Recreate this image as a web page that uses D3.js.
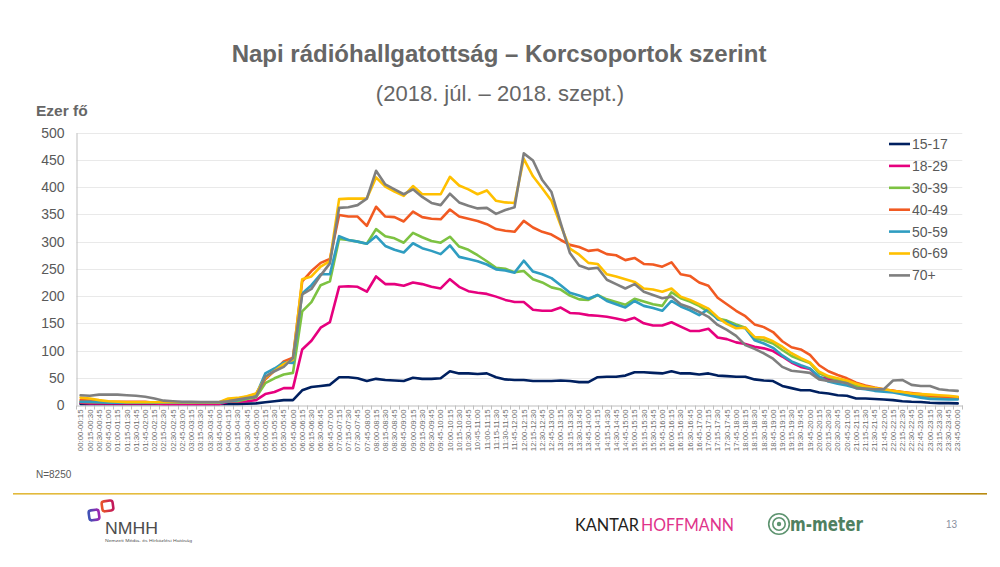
<!DOCTYPE html>
<html>
<head>
<meta charset="utf-8">
<script src="https://cdn.jsdelivr.net/npm/d3@7"></script>
<style>
  html, body { margin: 0; padding: 0; background: #ffffff; }
  svg { display: block; font-family: "Liberation Sans", Arial, sans-serif; }
</style>
</head>
<body>
<svg id="chart" width="1000" height="567"></svg>
<script>
// ---------------- DATA ----------------
const timeLabels = [
  "00:00-00:15","00:15-00:30","00:30-00:45","00:45-01:00","01:00-01:15","01:15-01:30","01:30-01:45","01:45-02:00",
  "02:00-02:15","02:15-02:30","02:30-02:45","02:45-03:00","03:00-03:15","03:15-03:30","03:30-03:45","03:45-04:00",
  "04:00-04:15","04:15-04:30","04:30-04:45","04:45-05:00","05:00-05:15","05:15-05:30","05:30-05:45","05:45-06:00",
  "06:00-06:15","06:15-06:30","06:30-06:45","06:45-07:00","07:00-07:15","07:15-07:30","07:30-07:45","07:45-08:00",
  "08:00-08:15","08:15-08:30","08:30-08:45","08:45-09:00","09:00-09:15","09:15-09:30","09:30-09:45","09:45-10:00",
  "10:00-10:15","10:15-10:30","10:30-10:45","10:45-11:00","11:00-11:15","11:15-11:30","11:30-11:45","11:45-12:00",
  "12:00-12:15","12:15-12:30","12:30-12:45","12:45-13:00","13:00-13:15","13:15-13:30","13:30-13:45","13:45-14:00",
  "14:00-14:15","14:15-14:30","14:30-14:45","14:45-15:00","15:00-15:15","15:15-15:30","15:30-15:45","15:45-16:00",
  "16:00-16:15","16:15-16:30","16:30-16:45","16:45-17:00","17:00-17:15","17:15-17:30","17:30-17:45","17:45-18:00",
  "18:00-18:15","18:15-18:30","18:30-18:45","18:45-19:00","19:00-19:15","19:15-19:30","19:30-19:45","19:45-20:00",
  "20:00-20:15","20:15-20:30","20:30-20:45","20:45-21:00","21:00-21:15","21:15-21:30","21:30-21:45","21:45-22:00",
  "22:00-22:15","22:15-22:30","22:30-22:45","22:45-23:00","23:00-23:15","23:15-23:30","23:30-23:45","23:45-00:00"
];

const seriesNames = ["15-17", "18-29", "30-39", "40-49", "50-59", "60-69", "70+"];
const seriesColors = ["#002060", "#e6007e", "#7dc242", "#f15a22", "#2f9dc1", "#ffc000", "#7f7f7f"];

const age1517 = [
  2,2,2,2,2,2,2,2,2,2,2,2,
  2,2,2,2,2,2,2.5,3,5,7,9,9,
  27,33,35,37,51,51,49,44,48,46,45,44,
  50,48,48,49,62,58,58,57,58,51,47,46,
  46,44,44,44,45,44,42,42,51,52,52,54,
  60,60,59,58,62,58,58,56,58,54,53,52,
  52,47,45,44,35,31,27,27,23,21,18,17,
  12,12,11,10,9,7,6,5.5,4,3.5,3.5,3
];
const age1829 = [
  4,3,3,3,3,3,3,3,3,2,2,2,
  2,2,2,2,6,6,7,9,20,24,31,31,
  102,118,142,152,217,218,217,208,236,222,222,219,
  225,222,217,214,231,217,209,206,204,199,193,189,
  189,175,173,173,179,169,168,165,164,162,159,155,
  160,150,146,146,152,144,136,136,140,124,121,115,
  112,107,104,99,89,78,70,66,51,48,46,43,
  32,31,29,27,26,23,20,18,15,14,13,12
];
const age3039 = [
  5.5,5,5,5,4.5,4.5,4.5,4.5,4,4,4,4,
  4,4,4,4,7,7,11,14,40,49,56,59,
  172,189,220,227,305,303,300,296,323,310,306,298,
  316,308,301,298,309,291,285,275,264,252,250,244,
  246,231,225,216,212,201,194,193,202,194,189,184,
  195,190,185,182,207,196,190,182,171,159,155,148,
  142,122,119,113,101,90,83,77,58,51,47,43,
  35,32,30,28,25,23,20,18,15,14,13.5,13.5
];
const age4049 = [
  9,8,6,6,6,6,6,6,4,4,4,4,
  4,4,4,4,10,12,15,20,47,63,80,87,
  227,246,261,268,349,346,346,329,364,346,345,337,
  355,345,342,341,359,346,342,338,332,323,320,318,
  338,326,318,313,303,294,290,283,285,277,275,266,
  270,259,258,254,262,240,237,225,219,197,185,173,
  163,148,143,134,117,106,102,92,73,62,55,49,
  41,36,32,29,26,24,22,20,17,16,15,14
];
const age5059 = [
  6,6,5,4,4,4,4,4,4,4,4,4,
  4,4,4,4,7,9,13,18,58,67,78,77,
  205,220,240,240,310,303,300,296,310,292,285,280,
  297,288,283,277,293,272,268,264,258,249,247,243,
  265,245,240,233,220,206,201,195,202,191,185,179,
  191,182,178,173,191,181,174,165,176,157,153,144,
  141,119,113,105,91,80,73,67,52,43,39,36,
  31,29,26,24.5,23,20,16.5,13.5,11,10.5,10,10
];
const age6069 = [
  13.5,12,9,7,6,5,5,5,5,5,5,5,
  5,5,5,5,12,13,16,21,50,63,75,83,
  231,236,254,264,378,379,379,379,418,401,392,384,
  402,387,387,387,419,403,396,387,394,375,372,371,
  452,420,398,375,330,287,276,261,259,240,236,231,
  226,214,212,208,214,199,193,185,177,161,149,141,
  142,125,124,117,107,95,86,78,61,53,49,45,
  39,34,31,29,26,24,21,20,19,18,17,15
];
const age70plus = [
  18,17,19,19,19,18,17,15,12,8,7,6,
  6,5.5,5.5,5.5,7,10,13,15,52,62,70,86,
  203,213,238,260,362,363,367,379,430,405,396,387,
  396,382,371,367,388,372,366,361,362,351,358,363,
  462,449,413,391,334,279,256,250,252,230,222,214,
  222,208,202,196,199,185,179,171,162,147,138,127,
  110,103,95,85,70,63,61,59,47,44,43,40,
  31,30,29,29,45,46,37,35,35,29,27,26
];
const yTicks = [0, 50, 100, 150, 200, 250, 300, 350, 400, 450, 500];

const seriesValues = [age1517, age1829, age3039, age4049, age5059, age6069, age70plus];
const series = seriesNames.map((name, k) => ({ name, color: seriesColors[k], values: seriesValues[k] }));

// ---------------- LAYOUT ----------------
const svg = d3.select("#chart");
const textGray = "#595959";

const x = d3.scaleBand().domain(timeLabels).range([76, 962.3]).padding(0);
const y = d3.scaleLinear().domain([0, 500]).range([405, 132.7]);
const xc = d => x(d) + x.bandwidth() / 2;

// Title
svg.append("text").attr("x", 499).attr("y", 62).attr("text-anchor", "middle")
  .attr("font-size", 24).attr("font-weight", "bold").attr("fill", "#666666")
  .text("Napi rádióhallgatottság – Korcsoportok szerint");
svg.append("text").attr("x", 500).attr("y", 101).attr("text-anchor", "middle")
  .attr("font-size", 22).attr("fill", "#666666")
  .text("(2018. júl. – 2018. szept.)");

// Y unit label
svg.append("text").attr("x", 36).attr("y", 116)
  .attr("font-size", 15.5).attr("font-weight", "bold").attr("fill", "#666666")
  .text("Ezer fő");

// Gridlines
svg.append("g").selectAll("line").data(yTicks.filter(t => t > 0)).join("line")
  .attr("x1", 76.5).attr("x2", 962.3)
  .attr("y1", d => Math.round(y(d)) + 0.5).attr("y2", d => Math.round(y(d)) + 0.5)
  .attr("stroke", "#e9e9e9").attr("stroke-width", 1);

// Y axis
const yAxis = d3.axisLeft(y).tickValues(yTicks).tickSize(0).tickPadding(12);
const gy = svg.append("g").attr("transform", "translate(76.5,0)").call(yAxis);
gy.select(".domain").attr("stroke", "#bfbfbf");
gy.selectAll("text").attr("font-size", 14).attr("fill", textGray)
  .attr("font-family", "'Liberation Sans', Arial, sans-serif");

// X axis
const xAxis = d3.axisBottom(x).tickSize(0).tickPadding(0);
const gx = svg.append("g").attr("transform", "translate(0,405.5)").call(xAxis);
gx.select(".domain").attr("stroke", "#bfbfbf");
gx.selectAll(".tick text")
  .attr("font-size", 7.8).attr("fill", "#6b6b6b")
  .attr("font-family", "'Liberation Sans', Arial, sans-serif")
  .attr("text-anchor", "end")
  .attr("transform", "translate(0,4) rotate(-90)")
  .attr("x", 0).attr("y", 0).attr("dy", "0.35em");
// tick marks between categories
gx.append("g").selectAll("line").data(timeLabels.concat(["__end"])).join("line")
  .attr("x1", (d, i) => Math.round(i < timeLabels.length ? x(d) : x.range()[1]) + 0.5)
  .attr("x2", (d, i) => Math.round(i < timeLabels.length ? x(d) : x.range()[1]) + 0.5)
  .attr("y1", 0).attr("y2", 4)
  .attr("stroke", "#bfbfbf");

// Lines
const line = d3.line().x((v, i) => xc(timeLabels[i])).y(v => y(v));
svg.append("g").selectAll("path").data(series).join("path")
  .attr("d", d => line(d.values))
  .attr("fill", "none").attr("stroke", d => d.color)
  .attr("stroke-width", 2.6).attr("stroke-linejoin", "round").attr("stroke-linecap", "round");

// Legend
const lg = svg.append("g").selectAll("g").data(series).join("g")
  .attr("transform", (d, i) => `translate(889,${144 + i * 21.9})`);
lg.append("line").attr("x1", 0).attr("x2", 21).attr("y1", 0).attr("y2", 0)
  .attr("stroke", d => d.color).attr("stroke-width", 2.6);
lg.append("text").attr("x", 23).attr("y", 0).attr("dy", "0.35em")
  .attr("font-size", 14).attr("fill", textGray).text(d => d.name);

// Sample size
svg.append("text").attr("x", 36).attr("y", 478).attr("font-size", 10)
  .attr("fill", textGray).text("N=8250");

// Gold separator line
const defs = svg.append("defs");
const gold = defs.append("linearGradient").attr("id", "gold").attr("x1", "0%").attr("x2", "100%");
gold.append("stop").attr("offset", "0%").attr("stop-color", "#e2b93b");
gold.append("stop").attr("offset", "60%").attr("stop-color", "#f0c84a");
gold.append("stop").attr("offset", "100%").attr("stop-color", "#b88a10");
svg.append("rect").attr("x", 13).attr("y", 493).attr("width", 974).attr("height", 1.6).attr("fill", "url(#gold)");

// NMHH logo
const g1 = defs.append("linearGradient").attr("id", "nm1").attr("x1", "0%").attr("x2", "100%");
g1.append("stop").attr("offset", "0%").attr("stop-color", "#e8542a");
g1.append("stop").attr("offset", "100%").attr("stop-color", "#c2185b");
const g2 = defs.append("linearGradient").attr("id", "nm2").attr("x1", "0%").attr("x2", "100%");
g2.append("stop").attr("offset", "0%").attr("stop-color", "#3f51b5");
g2.append("stop").attr("offset", "100%").attr("stop-color", "#9c27b0");
svg.append("rect").attr("x", 102).attr("y", 501).attr("width", 11).attr("height", 10).attr("rx", 2.5)
  .attr("fill", "none").attr("stroke", "url(#nm1)").attr("stroke-width", 2.6)
  .attr("transform", "rotate(-8 107 506)");
svg.append("rect").attr("x", 89).attr("y", 510).attr("width", 10).attr("height", 10).attr("rx", 2.5)
  .attr("fill", "none").attr("stroke", "url(#nm2)").attr("stroke-width", 2.6)
  .attr("transform", "rotate(-8 94 515)");
svg.append("text").attr("x", 105).attr("y", 534).attr("font-size", 17)
  .attr("fill", "#4d4d4d").attr("textLength", 53).attr("lengthAdjust", "spacingAndGlyphs")
  .attr("font-family", "'Liberation Sans', Arial, sans-serif").text("NMHH");
svg.append("text").attr("x", 105).attr("y", 542).attr("font-size", 4.3)
  .attr("fill", "#555").attr("textLength", 87).attr("lengthAdjust", "spacingAndGlyphs")
  .text("Nemzeti Média- és Hírközlési Hatóság");

// KANTAR HOFFMANN
svg.append("text").attr("x", 575).attr("y", 531).attr("font-size", 17.5)
  .attr("font-family", "Lato, 'Open Sans', sans-serif")
  .attr("fill", "#231f20").attr("textLength", 64).attr("lengthAdjust", "spacingAndGlyphs").text("KANTAR");
svg.append("text").attr("x", 641).attr("y", 531).attr("font-size", 17.5)
  .attr("font-family", "Lato, 'Open Sans', sans-serif")
  .attr("fill", "#e0338a").attr("textLength", 93).attr("lengthAdjust", "spacingAndGlyphs").text("HOFFMANN");

// m-meter logo
const mm = "#5e9470";
svg.append("circle").attr("cx", 779).attr("cy", 524).attr("r", 10.3).attr("fill", "none").attr("stroke", mm).attr("stroke-width", 1.6);
svg.append("circle").attr("cx", 779).attr("cy", 524).attr("r", 6.2).attr("fill", "none").attr("stroke", mm).attr("stroke-width", 1.6);
svg.append("circle").attr("cx", 779).attr("cy", 524).attr("r", 2.2).attr("fill", mm);
svg.append("text").attr("x", 790).attr("y", 530.5).attr("font-size", 19)
  .attr("font-family", "'Liberation Sans Narrow', 'DejaVu Sans Condensed', sans-serif")
  .attr("font-weight", "bold").attr("fill", "#4f8060")
  .attr("textLength", 73).attr("lengthAdjust", "spacingAndGlyphs").text("m-meter");

// Page number
svg.append("text").attr("x", 957).attr("y", 528).attr("text-anchor", "end").attr("font-size", 10)
  .attr("fill", "#8a8fa0").text("13");
</script>
</body>
</html>
